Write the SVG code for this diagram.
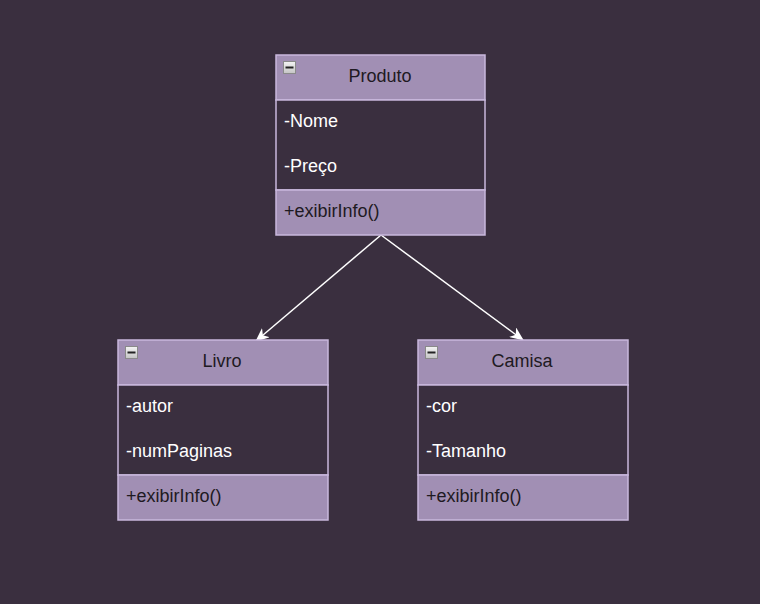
<svg xmlns="http://www.w3.org/2000/svg" width="760" height="604" viewBox="0 0 760 604">
<defs>
<style>
.hdr{fill:#a18fb4;stroke:#c9b8dd;stroke-width:1.5}
.att{fill:#3a2f3f;stroke:#c9b8dd;stroke-width:1.5}
.ico{fill:url(#icog);stroke:#8a8a8a;stroke-width:1}
.t{font-family:"Liberation Sans",Arial,sans-serif;font-size:18px}
.tn{fill:#1e1a22;text-anchor:middle}
.ta{fill:#ffffff}
.tm{fill:#1e1a22}
.edge{stroke:#ffffff;stroke-width:1.5;fill:none}
</style>
<linearGradient id="icog" x1="0" y1="0" x2="0" y2="1">
<stop offset="0" stop-color="#f4f4f4"/>
<stop offset="1" stop-color="#c4c4c4"/>
</linearGradient>
<marker id="arr" viewBox="0 0 14 12" refX="13" refY="6" markerWidth="14" markerHeight="12" markerUnits="userSpaceOnUse" orient="auto">
<path d="M0,0 L14,6 L0,12 L4,6 Z" fill="#ffffff"/>
</marker>
<g id="minus">
<rect x="0.5" y="0.5" width="12" height="12" class="ico"/>
<rect x="2.5" y="5.5" width="8" height="2" fill="#222"/>
</g>
</defs>
<rect width="760" height="604" fill="#3a2f3f"/>
<g id="connectors">
<line x1="381" y1="235" x2="256" y2="341" class="edge" marker-end="url(#arr)"/>
<line x1="381" y1="235" x2="523" y2="340" class="edge" marker-end="url(#arr)"/>
</g>
<g id="Produto">
<rect x="276" y="55" width="209" height="45" class="hdr"/>
<rect x="276" y="100" width="209" height="90" class="att"/>
<rect x="276" y="190" width="209" height="45" class="hdr"/>
<use href="#minus" x="283" y="61"/>
<text x="380" y="82" class="t tn">Produto</text>
<text x="284" y="127" class="t ta">-Nome</text>
<text x="284" y="172" class="t ta">-Preço</text>
<text x="284" y="217" class="t tm">+exibirInfo()</text>
</g>
<g id="Livro">
<rect x="118" y="340" width="210" height="45" class="hdr"/>
<rect x="118" y="385" width="210" height="90" class="att"/>
<rect x="118" y="475" width="210" height="45" class="hdr"/>
<use href="#minus" x="125" y="346"/>
<text x="222" y="367" class="t tn">Livro</text>
<text x="126" y="412" class="t ta">-autor</text>
<text x="126" y="457" class="t ta">-numPaginas</text>
<text x="126" y="502" class="t tm">+exibirInfo()</text>
</g>
<g id="Camisa">
<rect x="418" y="340" width="210" height="45" class="hdr"/>
<rect x="418" y="385" width="210" height="90" class="att"/>
<rect x="418" y="475" width="210" height="45" class="hdr"/>
<use href="#minus" x="425" y="346"/>
<text x="522" y="367" class="t tn">Camisa</text>
<text x="426" y="412" class="t ta">-cor</text>
<text x="426" y="457" class="t ta">-Tamanho</text>
<text x="426" y="502" class="t tm">+exibirInfo()</text>
</g>
</svg>
